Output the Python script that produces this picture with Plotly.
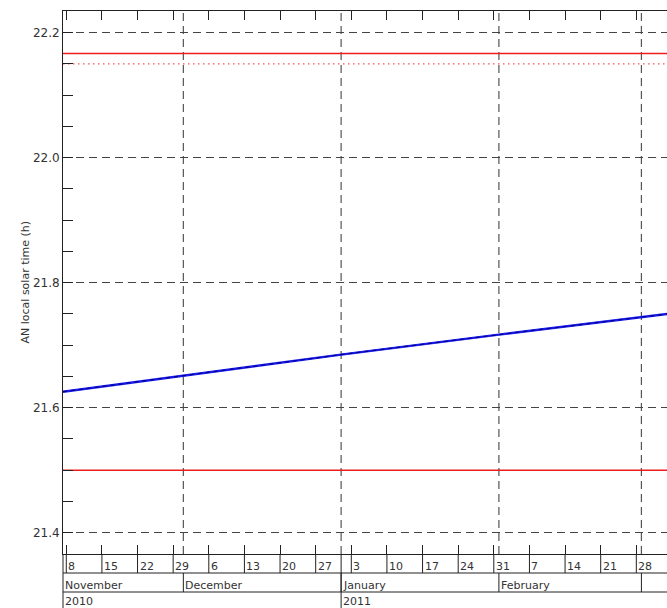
import plotly.graph_objects as go

# ---- data -------------------------------------------------------------
x_range = ["2010-11-07 08:30", "2011-03-06 00:40"]

# ascending-node local solar time of the orbit
orbit_dates = ["2010-11-07 08:30", "2010-12-01", "2011-01-01",
               "2011-02-01", "2011-03-01", "2011-03-06 00:40"]
orbit_lst = [21.6256, 21.651, 21.685, 21.717, 21.745, 21.750]

# reference limits (h)
upper_limit = 22.1667
upper_nominal = 22.15
lower_limit = 21.5

# weekly ticks and their day labels
week_ticks = ["2010-11-08", "2010-11-15", "2010-11-22", "2010-11-29",
              "2010-12-06", "2010-12-13", "2010-12-20", "2010-12-27",
              "2011-01-03", "2011-01-10", "2011-01-17", "2011-01-24",
              "2011-01-31", "2011-02-07", "2011-02-14", "2011-02-21",
              "2011-02-28"]
day_labels = ["8", "15", "22", "29", "6", "13", "20", "27", "3", "10",
              "17", "24", "31", "7", "14", "21", "28"]

month_starts = ["2010-12-01", "2011-01-01", "2011-02-01", "2011-03-01"]
month_labels = ["November", "December", "January", "February"]
year_starts = ["2011-01-01"]
year_labels = ["2010", "2011"]

# ---- styling constants ----------------------------------------------
W, H = 667, 608
M_L, M_T, M_B = 63, 11, 54
PLOT_H = H - M_T - M_B
AX_COL = "#222222"
TXT_COL = "#333333"
FONT = "DejaVu Sans"
ROW1, ROW2, ROW3 = 19, 38, 60   # pixel depth of the date rows


def py(px):
    """pixels below the plot bottom -> paper y"""
    return -px / PLOT_H


fig = go.Figure()

fig.add_trace(go.Scatter(x=x_range, y=[upper_limit] * 2, mode="lines",
                         line=dict(color="#ee1c1c", width=1.5),
                         hoverinfo="skip"))
fig.add_trace(go.Scatter(x=x_range, y=[upper_nominal] * 2, mode="lines",
                         line=dict(color="#ff5050", width=1.2,
                                   dash="1.5px,3.5px"),
                         hoverinfo="skip"))
fig.add_trace(go.Scatter(x=x_range, y=[lower_limit] * 2, mode="lines",
                         line=dict(color="#ee1c1c", width=1.5),
                         hoverinfo="skip"))
fig.add_trace(go.Scatter(x=orbit_dates, y=orbit_lst, mode="lines",
                         line=dict(color="#1818e8", width=2.4)))
fig.add_trace(go.Scatter(x=orbit_dates, y=orbit_lst, mode="lines",
                         line=dict(color="#000090", width=1.2,
                                   dash="4px,4px")))

shapes = []
# monthly dashed grid
for d in month_starts:
    shapes.append(dict(type="line", xref="x", yref="paper", x0=d, x1=d,
                       y0=0, y1=1, layer="below",
                       line=dict(color="#555555", width=1.2,
                                 dash="8px,5px")))
# date rows: horizontal rules
for depth in (ROW1, ROW2):
    shapes.append(dict(type="line", xref="paper", yref="paper", x0=0, x1=1,
                       y0=py(depth), y1=py(depth),
                       line=dict(color=AX_COL, width=1)))
# left edge through all rows
shapes.append(dict(type="line", xref="paper", yref="paper", x0=0, x1=0,
                   y0=0, y1=py(ROW3), line=dict(color=AX_COL, width=1)))
# day separators
for d in week_ticks:
    shapes.append(dict(type="line", xref="x", yref="paper", x0=d, x1=d,
                       y0=0, y1=py(ROW1), line=dict(color=AX_COL, width=1)))
# month separators
for d in month_starts:
    shapes.append(dict(type="line", xref="x", yref="paper", x0=d, x1=d,
                       y0=py(ROW1), y1=py(ROW2),
                       line=dict(color=AX_COL, width=1)))
# year separators
for d in year_starts:
    shapes.append(dict(type="line", xref="x", yref="paper", x0=d, x1=d,
                       y0=0, y1=py(ROW3), line=dict(color=AX_COL, width=1)))

annotations = []
lab_font = dict(family=FONT, size=11, color=TXT_COL)
for d, t in zip(week_ticks, day_labels):
    annotations.append(dict(x=d, xref="x", y=0, yref="paper", text=t,
                            showarrow=False, xanchor="left",
                            yanchor="middle", xshift=1, yshift=-12,
                            borderpad=0, font=lab_font))
month_pos = [None] + month_starts[:3]
for d, t in zip(month_pos, month_labels):
    a = dict(y=0, yref="paper", text=t, showarrow=False, xanchor="left",
             yanchor="middle", xshift=1, yshift=-31, borderpad=0,
             font=lab_font)
    if d is None:
        a.update(x=0, xref="paper")
    else:
        a.update(x=d, xref="x")
    annotations.append(a)
for d, t in zip([None] + year_starts, year_labels):
    a = dict(y=0, yref="paper", text=t, showarrow=False, xanchor="left",
             yanchor="middle", xshift=1, yshift=-47, borderpad=0,
             font=lab_font)
    if d is None:
        a.update(x=0, xref="paper")
    else:
        a.update(x=d, xref="x")
    annotations.append(a)
annotations.append(dict(x=0, xref="paper", xshift=-38, y=0.5, yref="paper",
                        text="AN local solar time (h)", textangle=-90,
                        showarrow=False, xanchor="center", yanchor="middle",
                        font=dict(family=FONT, size=11, color=TXT_COL)))

fig.update_layout(
    width=W, height=H,
    margin=dict(l=M_L, r=0, t=M_T, b=M_B, pad=0),
    paper_bgcolor="white", plot_bgcolor="white",
    showlegend=False,
    shapes=shapes, annotations=annotations,
    xaxis=dict(type="date", range=x_range, showline=True,
               linecolor=AX_COL, linewidth=1, mirror="ticks",
               ticks="inside", ticklen=9, tickcolor=AX_COL, tickwidth=1,
               tickvals=week_ticks, showticklabels=False,
               showgrid=False, zeroline=False),
    yaxis=dict(range=[21.366, 22.2347], showline=True, linecolor=AX_COL,
               linewidth=1, ticks="inside", ticklen=10, tickcolor=AX_COL,
               tick0=21.4, dtick=0.2, tickformat=".1f",
               tickfont=dict(family=FONT, size=12, color=TXT_COL),
               showgrid=True, gridcolor="#444444", gridwidth=1,
               griddash="8px,5px", zeroline=False,
               minor=dict(dtick=0.05, tick0=21.4, ticks="inside",
                          ticklen=10, tickcolor=AX_COL, showgrid=False)),
)

fig.write_html("out.html")
